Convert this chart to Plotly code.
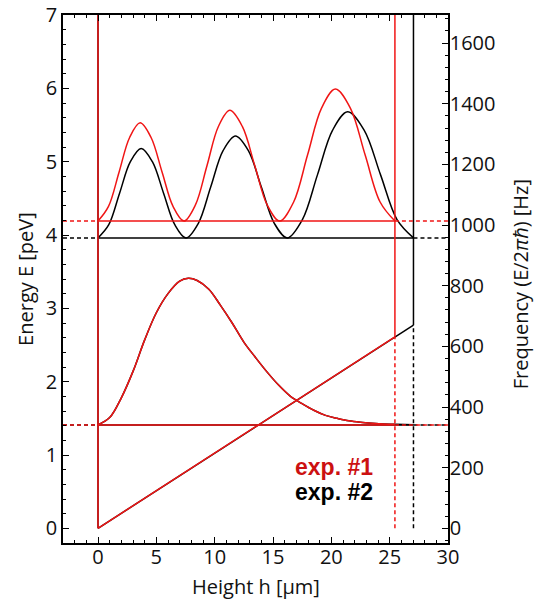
import plotly.graph_objects as go

# --- experiment set-up (heights in µm, energies in peV) ---
hz_per_pev = 241.8           # E / (2*pi*hbar) conversion
wall_h = {"exp1": 25.45, "exp2": 27.04}       # upper mirror heights
wall_e = {"exp1": 2.61, "exp2": 2.77}         # potential m*g*h at the upper mirror
ground_e = {"exp1": 1.41, "exp2": 1.41}       # ground-state energies
excited_e = {"exp1": 4.19, "exp2": 3.96}      # excited-state energies

# ground-state probability density drawn on top of its energy level
ground_h = [0, 1, 2, 3, 4, 5, 6, 7, 7.75, 8.5, 9.5, 10.5, 11.5, 12.5, 13.5,
            14.5, 15.5, 16.5, 17.5, 18.5, 19.5, 20.5, 21.5, 22.5, 23.5, 24.5,
            25.45, 26.3, 27.04]
ground_y = [1.41, 1.51, 1.78, 2.14, 2.57, 2.94, 3.20, 3.37, 3.41, 3.38, 3.26,
            3.04, 2.80, 2.54, 2.33, 2.13, 1.95, 1.80, 1.70, 1.61, 1.54, 1.50,
            1.466, 1.446, 1.433, 1.423, 1.419, 1.415, 1.413]

# excited-state probability density, exp. #1
ex1_h = [0, 0.90, 1.81, 2.71, 3.61, 4.55, 5.49, 6.43, 7.37,
         8.35, 9.34, 10.32, 11.30, 12.37, 13.44, 14.50, 15.57,
         16.77, 17.96, 19.16, 20.35, 21.63, 22.90, 24.18, 25.45]
ex1_y = [4.19, 4.39, 4.86, 5.33, 5.53, 5.33, 4.86, 4.39, 4.19,
         4.41, 4.945, 5.48, 5.70, 5.48, 4.945, 4.41, 4.19,
         4.45, 5.09, 5.73, 5.99, 5.73, 5.09, 4.45, 4.19]

# excited-state probability density, exp. #2
ex2_h = [0, 0.925, 1.85, 2.775, 3.70, 4.66, 5.62, 6.58, 7.54,
         8.60, 9.66, 10.72, 11.78, 12.89, 14.00, 15.11, 16.22,
         17.52, 18.81, 20.11, 21.40, 22.81, 24.22, 25.63, 27.04]
ex2_y = [3.96, 4.14, 4.57, 5.00, 5.18, 5.00, 4.57, 4.14, 3.96,
         4.16, 4.655, 5.15, 5.35, 5.15, 4.655, 4.16, 3.96,
         4.21, 4.82, 5.43, 5.68, 5.43, 4.82, 4.21, 3.96]

x_ticks = [0, 5, 10, 15, 20, 25, 30]
e_ticks = [0, 1, 2, 3, 4, 5, 6, 7]
f_ticks = [0, 200, 400, 600, 800, 1000, 1200, 1400, 1600]
x_range = [-3, 30]
e_range = [-0.2, 7]

RED = "#f01515"
BLACK = "#000000"
DASH = "4px,3px"
LW = 1.5

fig = go.Figure()


def line(xs, ys, color, dash="solid", shape="linear", width=LW):
    fig.add_trace(go.Scatter(x=xs, y=ys, mode="lines", showlegend=False,
                             hoverinfo="skip",
                             line=dict(color=color, width=width, dash=dash,
                                       shape=shape, smoothing=1.0,
                                       simplify=False)))


def experiment(key, color, ex_h, ex_y, g_h, g_y):
    h_top = wall_h[key]
    e_top = wall_e[key]
    # energy levels: dashed outside the guide, solid inside
    for lev in (ground_e[key], excited_e[key]):
        line([x_range[0], 0], [lev, lev], color, dash=DASH)
        line([0, h_top], [lev, lev], color)
        line([h_top, x_range[1]], [lev, lev], color, dash=DASH)
    # gravitational potential and mirrors
    line([0, h_top], [0, e_top], color)
    line([0, 0], [0, e_range[1]], color)
    line([h_top, h_top], [e_top, e_range[1]], color)
    line([h_top, h_top], [0, e_top], color, dash=DASH)
    # probability densities
    line(g_h, g_y, color, shape="spline")
    line(ex_h, ex_y, color, shape="spline")


n2 = len(ground_h)
n1 = sum(1 for h in ground_h if h <= wall_h["exp1"])
experiment("exp2", BLACK, ex2_h, ex2_y, ground_h[:n2], ground_y[:n2])
experiment("exp1", RED, ex1_h, ex1_y, ground_h[:n1], ground_y[:n1])

# placeholder trace so the frequency axis is drawn
fig.add_trace(go.Scatter(x=[None], y=[None], yaxis="y2", showlegend=False))

fig.add_annotation(x=23.7, y=0.83, text="<b>exp. #1</b>", showarrow=False,
                   xanchor="right", yanchor="middle",
                   font=dict(family="Liberation Sans, Arial", size=23, color="#cc1111"))
fig.add_annotation(x=23.7, y=0.50, text="<b>exp. #2</b>", showarrow=False,
                   xanchor="right", yanchor="middle",
                   font=dict(family="Liberation Sans, Arial", size=23, color="#000000"))

TICKFONT = dict(family="Open Sans, DejaVu Sans", size=20, color="#111111")
TITLEFONT = dict(family="Open Sans, DejaVu Sans", size=20, color="#111111")

# axis titles placed in paper coordinates
fig.add_annotation(xref="paper", yref="paper", x=0.5, y=-0.083,
                   text="Height h [µm]", showarrow=False,
                   xanchor="center", yanchor="middle", font=TITLEFONT)
fig.add_annotation(xref="paper", yref="paper", x=-0.099, y=0.5,
                   text="Energy E [peV]", showarrow=False, textangle=-90,
                   xanchor="center", yanchor="middle", font=TITLEFONT)
fig.add_annotation(xref="paper", yref="paper", x=1.187, y=0.49,
                   text="Frequency (E/2<i>πħ</i>) [Hz]", showarrow=False,
                   textangle=-90, xanchor="center", yanchor="middle",
                   font=TITLEFONT)

axis_common = dict(showline=True, linecolor="black", linewidth=1.5,
                   ticks="inside", ticklen=6, tickwidth=1.2, tickcolor="black",
                   showgrid=False, zeroline=False, tickfont=TICKFONT,
                   automargin=False)

fig.update_layout(
    width=536, height=601,
    margin=dict(l=63, r=88, t=15, b=58, autoexpand=False),
    paper_bgcolor="white", plot_bgcolor="white",
    font=TICKFONT,
    xaxis=dict(range=x_range, tickvals=x_ticks, mirror="ticks",
               ticklabelstandoff=-5,
               minor=dict(dtick=1, ticklen=3, ticks="inside", tickcolor="black"),
               **axis_common),
    yaxis=dict(range=e_range, tickvals=e_ticks,
               minor=dict(dtick=0.2, ticklen=3, ticks="inside", tickcolor="black"),
               **axis_common),
    yaxis2=dict(range=[e_range[0] * hz_per_pev, e_range[1] * hz_per_pev],
                tickvals=f_ticks, overlaying="y", side="right",
                ticklabelstandoff=-4,
                minor=dict(dtick=40, ticklen=3, ticks="inside", tickcolor="black"),
                **axis_common),
)

fig.write_html("out.html")
